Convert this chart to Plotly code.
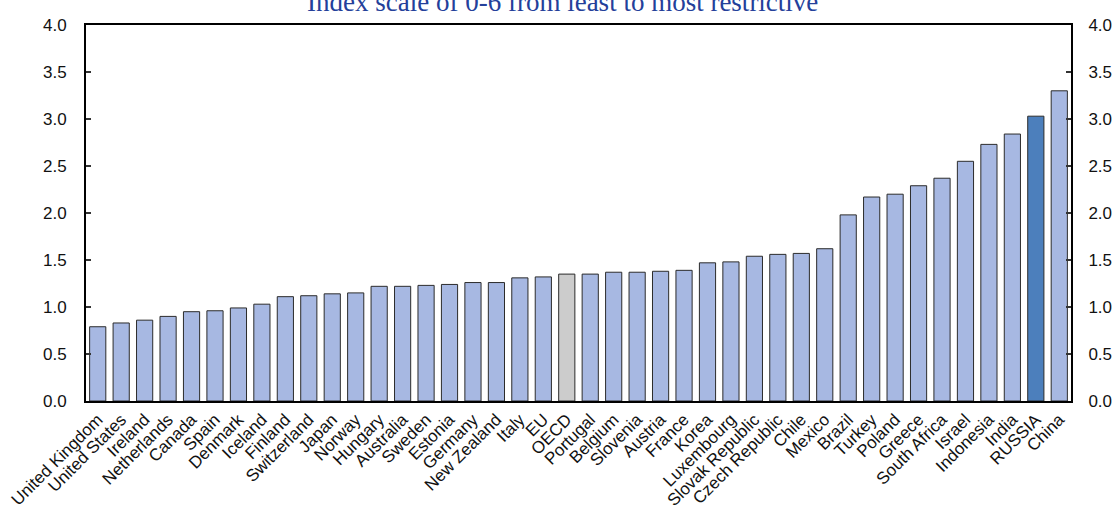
import plotly.graph_objects as go

countries = ["United Kingdom", "United States", "Ireland", "Netherlands", "Canada", "Spain",
             "Denmark", "Iceland", "Finland", "Switzerland", "Japan", "Norway", "Hungary",
             "Australia", "Sweden", "Estonia", "Germany", "New Zealand", "Italy", "EU", "OECD",
             "Portugal", "Belgium", "Slovenia", "Austria", "France", "Korea", "Luxembourg",
             "Slovak Republic", "Czech Republic", "Chile", "Mexico", "Brazil", "Turkey", "Poland",
             "Greece", "South Africa", "Israel", "Indonesia", "India", "RUSSIA", "China"]
values = [0.79, 0.83, 0.86, 0.90, 0.95, 0.96,
          0.99, 1.03, 1.11, 1.12, 1.14, 1.15, 1.22,
          1.22, 1.23, 1.24, 1.26, 1.26, 1.31, 1.32, 1.35,
          1.35, 1.37, 1.37, 1.38, 1.39, 1.47, 1.48,
          1.54, 1.56, 1.57, 1.62, 1.98, 2.17, 2.20,
          2.29, 2.37, 2.55, 2.73, 2.84, 3.03, 3.30]
y_ticks = [0.0, 0.5, 1.0, 1.5, 2.0, 2.5, 3.0, 3.5, 4.0]
y_tick_labels = ["0.0", "0.5", "1.0", "1.5", "2.0", "2.5", "3.0", "3.5", "4.0"]
title_text = "Index scale of 0-6 from least to most restrictive"

base_color = "#A7B8E2"
colors = []
for c in countries:
    if c == "OECD":
        colors.append("#CCCCCC")
    elif c == "RUSSIA":
        colors.append("#4C7FBC")
    else:
        colors.append(base_color)

fig = go.Figure()
fig.add_trace(go.Bar(x=countries, y=values, marker=dict(color=colors, line=dict(color="#2b2b2b", width=1)),
                     showlegend=False, hoverinfo="x+y"))
fig.add_trace(go.Scatter(x=[countries[0]], y=[0], yaxis="y2", mode="markers",
                         marker=dict(opacity=0, size=1), showlegend=False, hoverinfo="skip"))

tick_font = dict(family="Liberation Sans Narrow, Liberation Sans, Arial", size=17, color="#111111")

fig.update_layout(
    width=1118, height=512,
    margin=dict(l=86, r=47, t=25, b=111),
    plot_bgcolor="white", paper_bgcolor="white",
    bargap=0.31,
    xaxis=dict(
        range=[-0.5, len(countries) - 0.5], automargin=False,
        tickangle=-45, tickfont=dict(family="Liberation Sans, Arial", size=17, color="#111111"),
        showline=True, linecolor="black", linewidth=2, mirror=True, ticks="", showgrid=False,
    ),
    yaxis=dict(
        range=[0, 4], tickvals=y_ticks, ticktext=y_tick_labels, ticks="inside", ticklen=5,
        tickcolor="#333333", tickwidth=1.5, showgrid=False, zeroline=False, automargin=False,
        showline=True, linecolor="black", linewidth=2, tickfont=tick_font, ticklabelstandoff=14,
    ),
    yaxis2=dict(
        range=[0, 4], tickvals=y_ticks, ticktext=y_tick_labels, overlaying="y", side="right",
        ticks="inside", ticklen=5, tickcolor="#333333", tickwidth=1.5, showgrid=False,
        zeroline=False, showline=True, linecolor="black", linewidth=2, tickfont=tick_font,
        ticklabelstandoff=12, automargin=False,
    ),
    annotations=[dict(
        text=title_text, xref="paper", yref="paper", x=0.484, y=1, xanchor="center",
        yanchor="bottom", yshift=6, showarrow=False,
        font=dict(family="Liberation Serif, Times New Roman", size=27, color="#24409A"),
    )],
)

fig.write_html("out.html", post_script="document.body.style.margin='0';",
               config={"displayModeBar": False})
